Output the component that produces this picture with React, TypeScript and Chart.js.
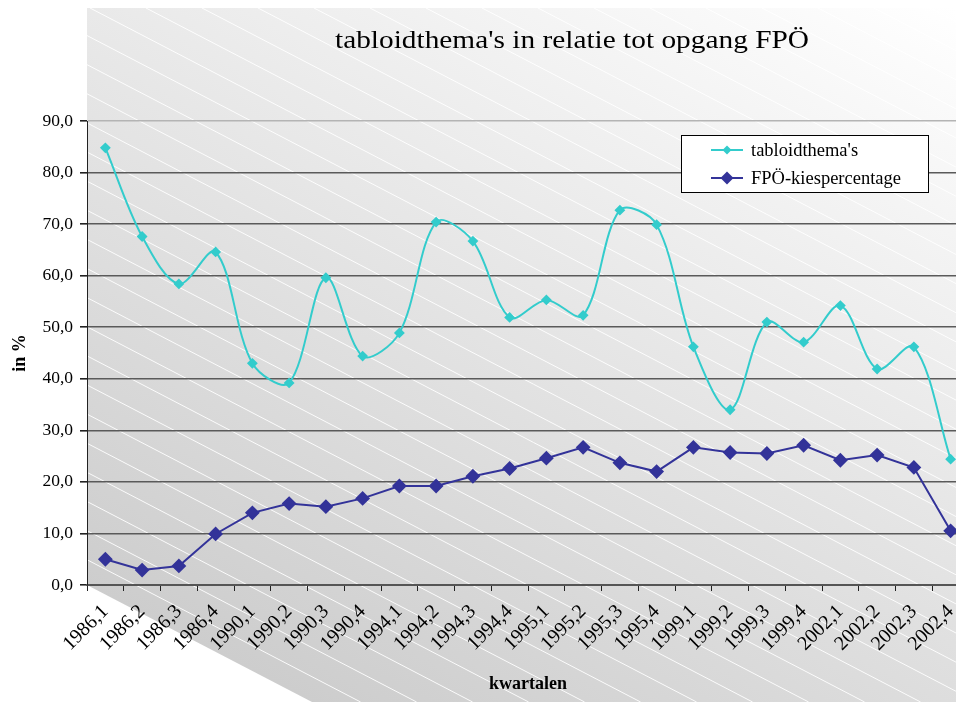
import React, { useEffect, useRef } from 'react';
import { Chart, registerables } from 'chart.js';

Chart.register(...registerables);

const categories = [
  '1986,1', '1986,2', '1986,3', '1986,4',
  '1990,1', '1990,2', '1990,3', '1990,4',
  '1994,1', '1994,2', '1994,3', '1994,4',
  '1995,1', '1995,2', '1995,3', '1995,4',
  '1999,1', '1999,2', '1999,3', '1999,4',
  '2002,1', '2002,2', '2002,3', '2002,4',
];

const tabloidValues = [
  84.8, 67.6, 58.4, 64.6,
  43.0, 39.2, 59.6, 44.4,
  48.9, 70.4, 66.7, 51.9,
  55.3, 52.3, 72.7, 69.9,
  46.2, 34.0, 51.0, 47.1,
  54.2, 41.9, 46.2, 24.4,
];

const fpoValues = [
  5.0, 2.9, 3.7, 9.9,
  14.0, 15.8, 15.2, 16.8,
  19.2, 19.2, 21.1, 22.6,
  24.6, 26.7, 23.7, 22.0,
  26.7, 25.7, 25.5, 27.1,
  24.2, 25.2, 22.8, 10.5,
];

const seriesNames = ["tabloidthema's", 'FPÖ-kiespercentage'];
const chartTitle = "tabloidthema's in relatie tot opgang FPÖ";
const yAxisTitle = 'in %';
const xAxisTitle = 'kwartalen';
const yMin = 0;
const yMax = 90;
const yStep = 10;

const SERIF = '"Liberation Serif", "Times New Roman", Times, serif';

const backgroundPlugin = {
  id: 'diagBackground',
  beforeDraw(chart: any) {
    const { ctx, chartArea } = chart;
    const W = chart.width;
    const H = chart.height;
    const L = chartArea.left;
    const B = chartArea.bottom;
    const slope = 0.52;
    const top = 8;
    ctx.save();
    ctx.fillStyle = '#ffffff';
    ctx.fillRect(0, 0, W, H);
    const cutX = L + (H - B) / slope;
    ctx.beginPath();
    ctx.moveTo(L, top);
    ctx.lineTo(W, top);
    ctx.lineTo(W, H);
    ctx.lineTo(cutX, H);
    ctx.lineTo(L, B);
    ctx.closePath();
    const nx = 0.461;
    const ny = -0.887;
    const g = ctx.createLinearGradient(L + 104 * nx, H + 104 * ny, L + 1016 * nx, H + 1016 * ny);
    g.addColorStop(0, '#cdcdcd');
    g.addColorStop(1, '#ffffff');
    ctx.fillStyle = g;
    ctx.fill();
    ctx.clip();
    ctx.strokeStyle = 'rgba(255,255,255,0.9)';
    ctx.lineWidth = 1;
    for (let x0 = 90 - 56 * 30; x0 < W; x0 += 56) {
      ctx.beginPath();
      ctx.moveTo(x0, top);
      ctx.lineTo(x0 + (H - top) / slope, H);
      ctx.stroke();
    }
    ctx.restore();
  },
};

function drawDiamond(ctx: CanvasRenderingContext2D, x: number, y: number, r: number) {
  ctx.beginPath();
  ctx.moveTo(x, y - r);
  ctx.lineTo(x + r, y);
  ctx.lineTo(x, y + r);
  ctx.lineTo(x - r, y);
  ctx.closePath();
  ctx.fill();
}

const overlayPlugin = {
  id: 'titleAndLegend',
  afterDraw(chart: any) {
    const { ctx } = chart;
    ctx.save();
    // Title
    ctx.font = `25px ${SERIF}`;
    ctx.fillStyle = '#000';
    ctx.textBaseline = 'alphabetic';
    ctx.textAlign = 'left';
    const tw = ctx.measureText(chartTitle).width;
    const targetW = 474;
    const sx = targetW / tw;
    ctx.save();
    ctx.translate(572 - targetW / 2, 48);
    ctx.scale(sx, 1);
    ctx.fillText(chartTitle, 0, 0);
    ctx.restore();

    // Legend
    const bx = 681.5, by = 135.5, bw = 247, bh = 57;
    ctx.fillStyle = '#ffffff';
    ctx.fillRect(bx, by, bw, bh);
    ctx.strokeStyle = '#000';
    ctx.lineWidth = 1;
    ctx.strokeRect(bx, by, bw, bh);
    const rows = [150, 178];
    chart.data.datasets.forEach((ds: any, i: number) => {
      const y = rows[i];
      ctx.strokeStyle = ds.borderColor;
      ctx.lineWidth = 2;
      ctx.beginPath();
      ctx.moveTo(711, y);
      ctx.lineTo(743, y);
      ctx.stroke();
      ctx.fillStyle = ds.pointBackgroundColor;
      drawDiamond(ctx, 727, y, ds.pointRadius + 0.5);
      ctx.fillStyle = '#000';
      ctx.font = `18.5px ${SERIF}`;
      ctx.textBaseline = 'middle';
      ctx.fillText(ds.label, 751, y + 1);
    });
    ctx.restore();
  },
};

export default function App() {
  const canvasRef = useRef<HTMLCanvasElement | null>(null);

  useEffect(() => {
    if (!canvasRef.current) return;
    const chart = new Chart(canvasRef.current, {
      type: 'line',
      data: {
        labels: categories,
        datasets: [
          {
            label: seriesNames[0],
            data: tabloidValues,
            borderColor: '#33CCCC',
            backgroundColor: '#33CCCC',
            pointBackgroundColor: '#33CCCC',
            pointBorderColor: '#33CCCC',
            pointStyle: 'rectRot',
            pointRadius: 4,
            borderWidth: 2,
            tension: 0.33,
            fill: false,
          },
          {
            label: seriesNames[1],
            data: fpoValues,
            borderColor: '#333399',
            backgroundColor: '#333399',
            pointBackgroundColor: '#333399',
            pointBorderColor: '#333399',
            pointStyle: 'rectRot',
            pointRadius: 6,
            borderWidth: 2,
            tension: 0,
            fill: false,
          },
        ],
      } as any,
      options: {
        animation: false,
        responsive: false,
        maintainAspectRatio: false,
        layout: { padding: { top: 121, right: 11, left: 0, bottom: 0 } },
        plugins: {
          legend: { display: false },
          title: { display: false },
          tooltip: { enabled: false },
        },
        scales: {
          x: {
            type: 'category',
            offset: true,
            afterFit: (scale: any) => { scale.height = 117; },
            grid: {
              offset: true,
              drawOnChartArea: false,
              drawTicks: true,
              tickLength: 6,
              tickColor: '#222',
            },
            border: { display: true, color: '#555', width: 2 },
            ticks: {
              autoSkip: false,
              maxRotation: 45,
              minRotation: 45,
              color: '#000',
              padding: 9,
              font: { family: SERIF, size: 20 },
            },
            title: {
              display: true,
              text: xAxisTitle,
              color: '#000',
              font: { family: SERIF, size: 18, weight: 'bold' },
              padding: { top: 0, bottom: 7 },
            },
          },
          y: {
            min: yMin,
            max: yMax,
            afterFit: (scale: any) => { scale.width = 87; },
            grid: {
              color: (c: any) => (c.tick && c.tick.value === yMax ? '#b4b4b4' : '#5a5a5a'),
              lineWidth: 1.6,
              tickLength: 7,
              tickColor: '#222',
            },
            border: { display: true, color: '#222', width: 1 },
            ticks: {
              stepSize: yStep,
              color: '#000',
              padding: 7,
              font: { family: SERIF, size: 17.5 },
              callback: (v: any) => Number(v).toFixed(1).replace('.', ','),
            },
            title: {
              display: true,
              text: yAxisTitle,
              color: '#000',
              font: { family: SERIF, size: 18, weight: 'bold' },
              padding: { top: 10, bottom: 0 },
            },
          },
        },
      } as any,
      plugins: [backgroundPlugin, overlayPlugin],
    });
    return () => chart.destroy();
  }, []);

  return (
    <div style={{ position: 'absolute', left: 0, top: 0, width: 956, height: 702, overflow: 'hidden', background: '#fff' }}>
      <canvas ref={canvasRef} width={980} height={702} style={{ width: 980, height: 702, display: 'block' }} />
    </div>
  );
}
